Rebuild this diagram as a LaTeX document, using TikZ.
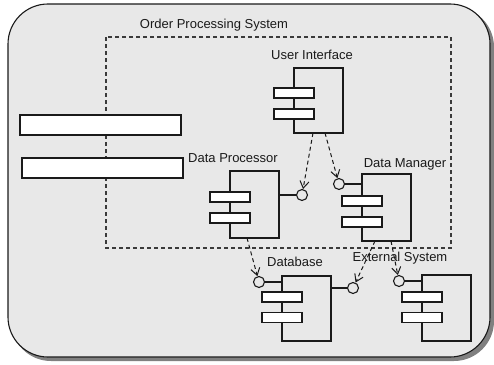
\documentclass[tikz,border=0pt]{standalone}
\usepackage{fontspec}
\setmainfont{Liberation Sans}
\usetikzlibrary{arrows.meta}
\definecolor{bgfill}{HTML}{E8E8E8}
\definecolor{shadowc}{HTML}{808080}
\definecolor{ink}{HTML}{1A1A1A}
\definecolor{dashc}{HTML}{3A3A3A}
\tikzset{
  body/.style={draw=ink, line width=1.1pt, minimum width=49pt, inner sep=0pt, fill=bgfill},
  bar/.style={draw=ink, line width=1.1pt, fill=white, minimum width=40pt, minimum height=10pt, inner sep=0pt},
  longbar/.style={draw=ink, line width=1.1pt, fill=white, minimum width=161pt, minimum height=20pt, inner sep=0pt},
  port/.style={draw=ink, line width=1.1pt, circle, fill=bgfill, minimum size=11pt, inner sep=0pt},
  lbl/.style={text=ink, font=\fontsize{13}{15}\selectfont, inner sep=0pt},
  stick/.style={draw=ink, line width=1.1pt},
  dep/.style={draw=ink, line width=1pt, dash pattern=on 4pt off 3pt, -{Straight Barb[length=7pt,width=9pt]}},
}
\begin{document}
\begin{tikzpicture}[x=1pt,y=-1pt]
\useasboundingbox (0,0) rectangle (494,364);
% outer frame with shadow
\fill[shadowc, rounded corners=40pt] (11,7) rectangle (494,361);
\draw[ink, line width=1.1pt, fill=bgfill, rounded corners=40pt] (8,4) rectangle (490,357);
% system boundary
\draw[dashc, line width=1.1pt, dash pattern=on 4pt off 3pt] (106,37) rectangle (451,248);
\node[lbl] (syslbl) at (214,25) {Order Processing System};
% left bars
\node[longbar] (lb1) at (100.5,125) {};
\node[longbar] (lb2) at (102.5,168) {};
% User Interface
\node[body, minimum height=65pt] (ui) at (318.5,100.5) {};
\node[bar] (uib1) at (294,93) {};
\node[bar] (uib2) at (294,114) {};
\node[lbl] (uil) at (312,55) {User Interface};
% Data Processor
\node[body, minimum height=67pt] (dp) at (254.5,204.5) {};
\node[port] (dpp) at (302,195) {};
\draw[stick] (dp.east |- dpp) -- (dpp);
\node[bar] (dpb1) at (230,197) {};
\node[bar] (dpb2) at (230,218) {};
\node[lbl] (dpl) at (233,158) {Data Processor};
% Data Manager
\node[body, minimum height=67pt] (dm) at (386.5,207.5) {};
\node[port] (dmp) at (339,184) {};
\draw[stick] (dmp) -- (dm.west |- dmp);
\node[bar] (dmb1) at (362,201) {};
\node[bar] (dmb2) at (362,222) {};
\node[lbl] (dml) at (405,164) {Data Manager};
% Database
\node[body, minimum height=65pt] (db) at (306.5,308.5) {};
\node[port] (dbp1) at (259,282) {};
\node[port] (dbp2) at (353,288) {};
\draw[stick] (dbp1) -- (db.west |- dbp1);
\draw[stick] (db.east |- dbp2) -- (dbp2);
\node[bar] (dbb1) at (282,297) {};
\node[bar] (dbb2) at (282,317.5) {};
\node[lbl] (dbl) at (295,262) {Database};
% External System
\node[body, minimum height=66pt] (es) at (446.5,308) {};
\node[port] (esp) at (399,281) {};
\draw[stick] (esp) -- (es.west |- esp);
\node[bar] (esb1) at (422,297) {};
\node[bar] (esb2) at (422,317.5) {};
\node[lbl] (esl) at (400,258) {External System};
% dependency start points
\coordinate (a1) at (313,133);
\coordinate (a2) at (325,133);
\coordinate (a3) at (247,238);
\coordinate (a4) at (375,241);
\coordinate (a5) at (391,241);
\draw[dep] (a1) -- (dpp);
\draw[dep] (a2) -- (dmp);
\draw[dep] (a3) -- (dbp1);
\draw[dep] (a4) -- (dbp2);
\draw[dep] (a5) -- (esp);
\end{tikzpicture}
\end{document}
